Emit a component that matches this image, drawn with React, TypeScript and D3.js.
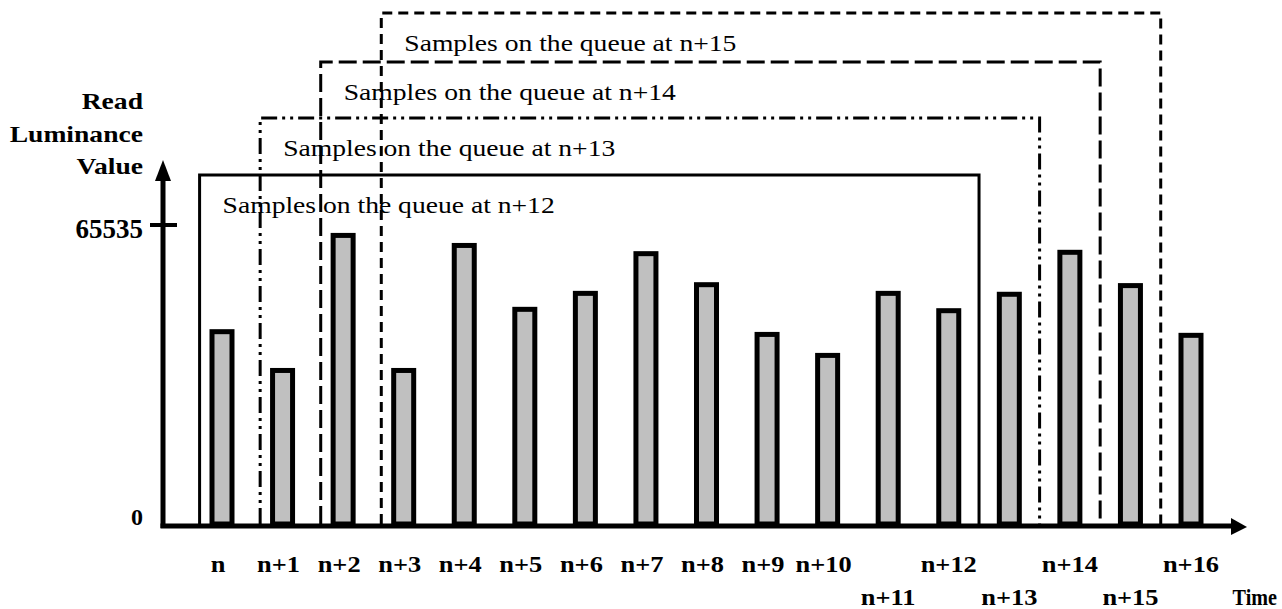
import React from "react";
import * as d3 from "d3";

// ---- data ----
const categories = [
  "n", "n+1", "n+2", "n+3", "n+4", "n+5", "n+6", "n+7", "n+8",
  "n+9", "n+10", "n+11", "n+12", "n+13", "n+14", "n+15", "n+16",
];
const luminance = [
  42700, 34200, 63800, 34200, 61600, 47600, 51100, 59800, 53000,
  42100, 37500, 51100, 47300, 50900, 60100, 52800, 41900,
];
const yTicks = [0, 65535];
const queueWindows = [
  { label: "Samples on the queue at n+12", start: "n", end: "n+12", dash: "none" },
  { label: "Samples on the queue at n+13", start: "n+1", end: "n+13", dash: "16,5,3,5,3,5" },
  { label: "Samples on the queue at n+14", start: "n+2", end: "n+14", dash: "18,6" },
  { label: "Samples on the queue at n+15", start: "n+3", end: "n+15", dash: "10,6" },
];
const yAxisTitle = ["Read", "Luminance", "Value"];
const xAxisTitle = "Time";

const FONT = '"Liberation Serif", "Times New Roman", Times, serif';

function SText({ x, y, sx = 1, size, weight = "normal", anchor = "start", children }: any) {
  return (
    <text
      transform={`translate(${x},${y}) scale(${sx},1)`}
      fontFamily={FONT}
      fontSize={size}
      fontWeight={weight}
      textAnchor={anchor}
      fill="#000"
    >
      {children}
    </text>
  );
}

export default function App() {
  const W = 1282;
  const H = 609;
  const axisX = 163;
  const axisY = 526;

  const x = d3.scalePoint<string>().domain(categories).range([222, 1191]);
  const step = x.step();
  const y = d3.scaleLinear().domain([0, 65535]).range([524, 225]);

  const barW = 20;
  const boxTops = [175, 118, 62, 13];

  return (
    <svg
      width={W}
      height={H}
      style={{ position: "absolute", left: 0, top: 0, background: "#fff" }}
    >
      <rect x={0} y={0} width={W} height={H} fill="#fff" />

      {/* queue window labels */}
      {queueWindows.map((w, i) => {
        const left = (x(w.start) as number) - step * 0.37;
        return (
          <SText key={"t" + i} x={left + 23} y={boxTops[i] + 38} sx={1.15} size={24}>
            {w.label}
          </SText>
        );
      })}

      {/* queue window frames */}
      {queueWindows.map((w, i) => {
        const left = (x(w.start) as number) - step * 0.37;
        const right = (x(w.end) as number) + step * 0.5;
        const top = boxTops[i];
        return (
          <path
            key={"b" + i}
            d={`M${left},${axisY - 2}V${top}H${right}V${axisY - 2}`}
            fill="none"
            stroke="#000"
            strokeWidth={3}
            strokeDasharray={w.dash}
          />
        );
      })}

      {/* bars */}
      {categories.map((c, i) => (
        <rect
          key={"r" + c}
          x={(x(c) as number) - barW / 2}
          y={y(luminance[i]) + 2.5}
          width={barW}
          height={y(0) - y(luminance[i]) - 2.5}
          fill="#c0c0c0"
          stroke="#000"
          strokeWidth={5}
        />
      ))}

      {/* y axis */}
      <line x1={axisX} x2={axisX} y1={axisY + 2} y2={178} stroke="#000" strokeWidth={5} />
      <path d={`M${axisX - 8},181L${axisX + 8},181L${axisX},160Z`} fill="#000" />
      <line x1={150} x2={177} y1={y(65535)} y2={y(65535)} stroke="#000" strokeWidth={4} />
      {yTicks.map((t) => (
        <SText
          key={"yt" + t}
          x={143}
          y={t === 0 ? axisY - 1 : y(t) + 13}
          size={t === 0 ? 24 : 27}
          weight="bold"
          anchor="end"
        >
          {String(t)}
        </SText>
      ))}
      {yAxisTitle.map((s, i) => (
        <SText key={"ya" + i} x={143} y={109 + i * 32.5} sx={1.2} size={23} weight="bold" anchor="end">
          {s}
        </SText>
      ))}

      {/* x axis */}
      <line x1={axisX - 2.5} x2={1233} y1={axisY} y2={axisY} stroke="#000" strokeWidth={5} />
      <path d={`M1231,518L1231,535L1247,527Z`} fill="#000" />
      {categories.map((c, i) => {
        const lower = i >= 11 && i % 2 === 1;
        return (
          <SText
            key={"xl" + c}
            x={(x(c) as number) - (i <= 10 ? 4 : 0)}
            y={lower ? 605 : 572}
            sx={1.1}
            size={24}
            weight="bold"
            anchor="middle"
          >
            {c}
          </SText>
        );
      })}
      <SText x={1277} y={605} sx={0.84} size={24} weight="bold" anchor="end">
        {xAxisTitle}
      </SText>
    </svg>
  );
}
